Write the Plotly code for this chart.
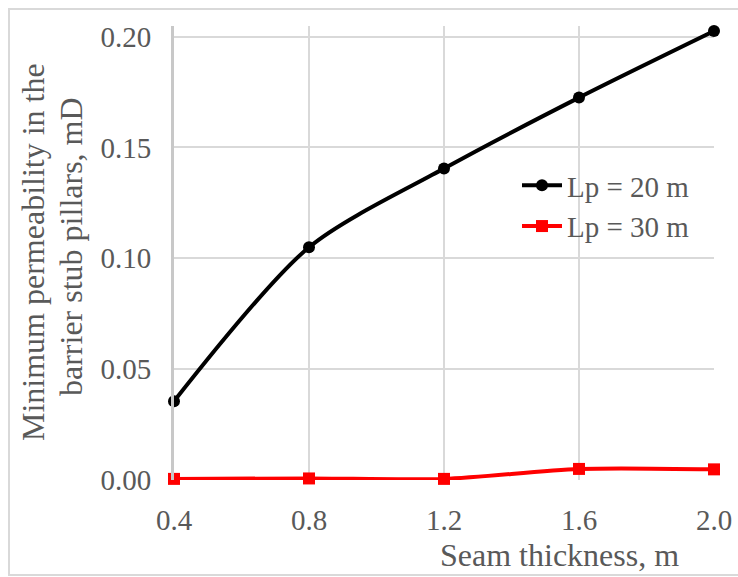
import plotly.graph_objects as go

seam_thickness = [0.4, 0.8, 1.2, 1.6, 2.0]
lp20_values = [0.0355, 0.105, 0.1405, 0.1725, 0.2025]
lp30_values = [0.0005, 0.0007, 0.0005, 0.0050, 0.0048]
y_ticks = [0.0, 0.05, 0.10, 0.15, 0.20]
y_tick_labels = ["0.00", "0.05", "0.10", "0.15", "0.20"]
x_tick_labels = ["0.4", "0.8", "1.2", "1.6", "2.0"]

FONT = "Liberation Serif, Times New Roman, serif"
GRAY = "#595959"


def px_x(sx):
    return (sx - 174) / 540


def px_y(sy):
    return (480 - sy) / 454


fig = go.Figure()
fig.add_trace(go.Scatter(
    x=seam_thickness, y=lp20_values, name="Lp = 20 m", legendgroup="a",
    mode="lines+markers", line=dict(color="black", width=4, shape="spline", smoothing=0.8),
    marker=dict(symbol="circle", size=12, color="black"), cliponaxis=False))
fig.add_trace(go.Scatter(
    x=seam_thickness, y=lp30_values, name="Lp = 30 m", legendgroup="b",
    mode="lines+markers", line=dict(color="#ff0000", width=4, shape="spline", smoothing=0.8),
    marker=dict(symbol="square", size=12, color="#ff0000"), cliponaxis=False))

fig.update_layout(
    width=738, height=577,
    margin=dict(l=174, r=24, t=26, b=97, autoexpand=False),
    paper_bgcolor="white", plot_bgcolor="white",
    font=dict(family=FONT, size=29, color=GRAY),
    showlegend=True,
    legend=dict(x=px_x(517), y=px_y(160), xanchor="left", yanchor="top",
                bgcolor="rgba(0,0,0,0)", font=dict(size=29, color=GRAY),
                tracegroupgap=0, itemwidth=40),
    xaxis=dict(range=[0.4, 2.0], tickvals=seam_thickness, ticktext=x_tick_labels,
               showgrid=True, gridcolor="#d9d9d9", gridwidth=2,
               zeroline=False, showline=False, ticks="", ticklabelstandoff=20,
               automargin=False),
    yaxis=dict(range=[0, 0.2048], tickvals=y_ticks, ticktext=y_tick_labels,
               showgrid=True, gridcolor="#d9d9d9", gridwidth=2,
               zeroline=False, showline=True, linecolor="#c8c8c8", linewidth=3,
               ticks="", ticklabelstandoff=14, automargin=False),
    annotations=[
        dict(text="Seam thickness, m", x=px_x(559.5), y=px_y(555),
             xref="paper", yref="paper", xanchor="center", yanchor="middle",
             showarrow=False, font=dict(size=32, color=GRAY, family=FONT)),
        dict(text="Minimum permeability in the",
             x=px_x(33), y=px_y(252),
             xref="paper", yref="paper", xanchor="center", yanchor="middle",
             textangle=-90, showarrow=False,
             font=dict(size=32, color=GRAY, family=FONT)),
        dict(text="barrier stub pillars, mD",
             x=px_x(71), y=px_y(247),
             xref="paper", yref="paper", xanchor="center", yanchor="middle",
             textangle=-90, showarrow=False,
             font=dict(size=32, color=GRAY, family=FONT)),
    ],
    shapes=[
        dict(type="rect", xref="paper", yref="paper",
             x0=px_x(9), x1=px_x(760),
             y0=px_y(575), y1=px_y(9),
             line=dict(color="#d9d9d9", width=2), layer="below"),
    ],
)

fig.write_html(
    "out.html",
    config={"displayModeBar": False},
    post_script="document.body.style.margin='0';document.body.style.overflow='hidden';",
)
